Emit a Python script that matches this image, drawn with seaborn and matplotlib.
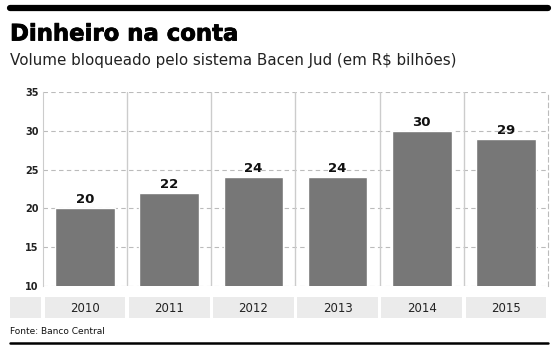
import matplotlib
matplotlib.use("Agg")
import matplotlib.pyplot as plt
import matplotlib.patheffects as pe
import seaborn as sns
import pandas as pd

# dados
anos = ["2010", "2011", "2012", "2013", "2014", "2015"]
volume = [20, 22, 24, 24, 30, 29]
yticks = [10, 15, 20, 25, 30, 35]

df = pd.DataFrame({"ano": anos, "volume": volume})

sns.set_style("white")
plt.rcParams["font.family"] = ["DejaVu Sans"]

W, H = 558, 355
fig = plt.figure(figsize=(W / 100, H / 100), dpi=100)

# eixo principal
x0, x1 = 43, 548
y_top, y_bot = 92, 286
ax = fig.add_axes([x0 / W, 1 - y_bot / H, (x1 - x0) / W, (y_bot - y_top) / H])
sns.barplot(data=df, x="ano", y="volume", color="#777777", width=0.71,
            saturation=1, ax=ax, zorder=3)
ax.set_ylim(10, 35)
ax.set_xlim(-0.5, 5.5)
ax.set_yticks(yticks)
ax.set_yticklabels([str(t) for t in yticks], fontsize=7, fontweight="bold", color="#222222")
ax.tick_params(axis="y", length=0, pad=3)
ax.set_xticks([])
ax.set_xlabel("")
ax.set_ylabel("")
for t in yticks:
    ax.axhline(t, color="#bbbbbb", lw=0.8, ls=(0, (4, 3)), zorder=1)
for i in range(len(anos) - 1):
    ax.axvline(i + 0.5, color="#cccccc", lw=1, zorder=1)
for s in ["top", "bottom"]:
    ax.spines[s].set_visible(False)
ax.spines["left"].set_color("#cccccc")
ax.spines["right"].set_color("#bbbbbb")
ax.spines["right"].set_linestyle((0, (4, 3)))
ax.spines["right"].set_linewidth(0.8)

for i, v in enumerate(volume):
    ax.text(i, v + 0.25, str(v), ha="center", va="bottom", fontsize=9.5,
            fontweight="bold", color="#111111", zorder=4)

# faixa das categorias
bx0 = 10
unit = (x1 - x0) / 6
band_top, band_bot = 297, 318
axb = fig.add_axes([bx0 / W, 1 - band_bot / H, (x1 - bx0) / W, (band_bot - band_top) / H])
axb.set_xlim(-0.5 - (x0 - bx0) / unit, 5.5)
axb.set_ylim(0, 1)
axb.axis("off")
gap = 0.02
axb.axvspan(-0.5 - (x0 - bx0) / unit, -0.5 - gap, color="#ebebeb", lw=0)
for i, a in enumerate(anos):
    axb.axvspan(i - 0.5 + gap, i + 0.5 - gap, color="#ebebeb", lw=0)
    axb.text(i, 0.45, a, ha="center", va="center", fontsize=8.5, color="#222222")

# títulos
fig.add_artist(plt.Line2D([10 / W, 548 / W], [1 - 8 / H, 1 - 8 / H], color="black", lw=4.5))
fig.text(10 / W, 1 - 34 / H, "Dinheiro na conta", fontsize=16.4, fontweight="heavy",
         va="center", ha="left", color="black",
         path_effects=[pe.withStroke(linewidth=0.6, foreground="black")])
fig.text(10 / W, 1 - 60 / H, "Volume bloqueado pelo sistema Bacen Jud (em R$ bilhões)",
         fontsize=10.9, va="center", ha="left", color="#222222")
fig.text(10 / W, 1 - 332 / H, "Fonte: Banco Central", fontsize=6.5, va="center",
         ha="left", color="#111111")
fig.add_artist(plt.Line2D([10 / W, 548 / W], [1 - 343 / H, 1 - 343 / H], color="black", lw=1.8))

fig.savefig("out.png", dpi=100)
